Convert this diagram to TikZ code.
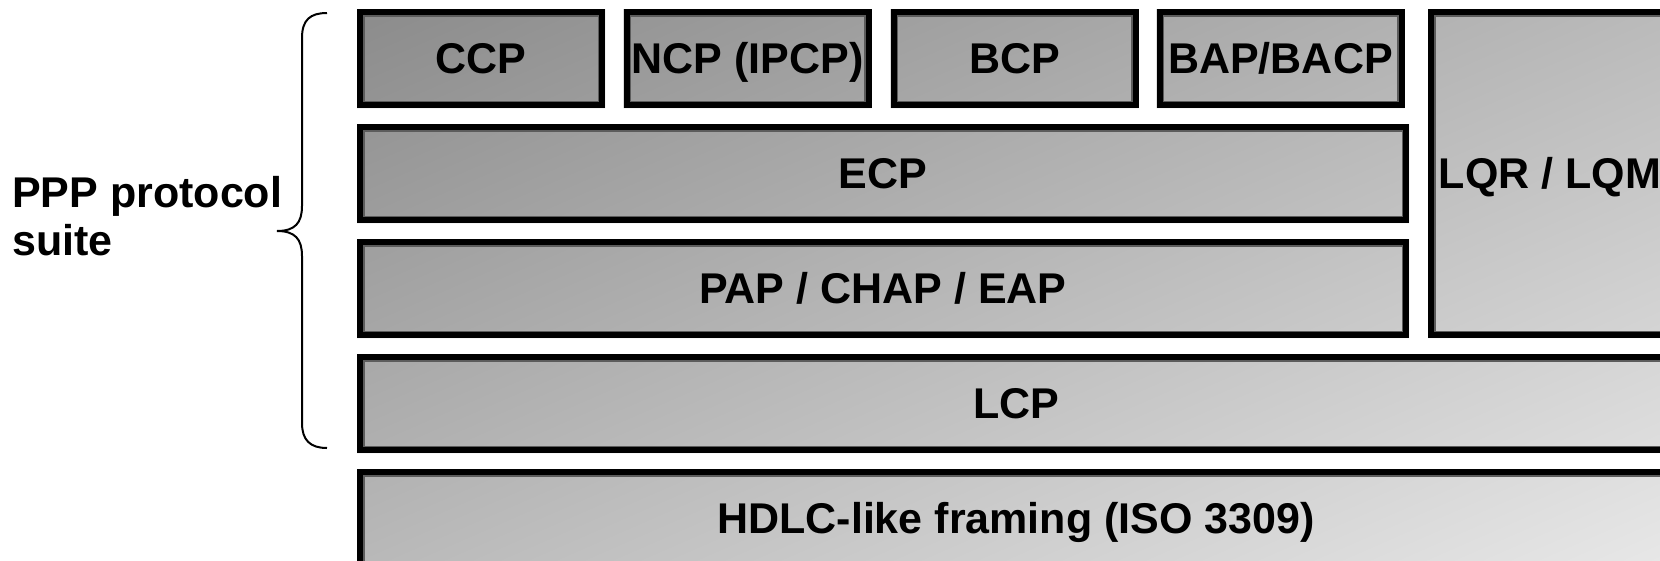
\documentclass[tikz,border=0pt]{standalone}
\usepackage{fontspec}
\setmainfont{Liberation Sans}
\usetikzlibrary{backgrounds}
\definecolor{shdark}{gray}{0.48}
\definecolor{shlight}{gray}{0.94}
\definecolor{innerline}{gray}{0.36}
\tikzset{
  layer/.style={draw=black, line width=6pt, inner sep=0pt, minimum height=93pt,
    text height=30.8pt, text depth=0pt, text=black,
    font=\fontsize{43}{48}\selectfont\bfseries,
    path picture={\draw[innerline, line width=1.5pt]
      ([xshift=3.75pt,yshift=-3.75pt]path picture bounding box.north west) rectangle
      ([xshift=-3.75pt,yshift=3.75pt]path picture bounding box.south east);}},
  smallbox/.style={layer, minimum width=242pt},
  widebox/.style={layer, minimum width=1046pt},
  fullbox/.style={layer, minimum width=1312pt},
  bracestyle/.style={draw=black, line width=2pt},
}
\begin{document}
\begin{tikzpicture}[x=1pt,y=-1pt]
\useasboundingbox (0,0) rectangle (1660,560);
\clip (0,0) rectangle (1660,560);

% protocol layers
\node[smallbox] (ccp) at (481,58.5) {CCP};
\node[smallbox] (ncp) at (747.5,58.5) {NCP (IPCP)};
\node[smallbox] (bcp) at (1014.5,58.5) {BCP};
\node[smallbox] (bap) at (1280.5,58.5) {BAP/BACP};
\node[widebox] (ecp) at (883,173.5) {ECP};
\node[widebox] (auth) at (883,288.5) {PAP / CHAP / EAP};
\node[layer, minimum width=238pt, minimum height=323pt] (lqr) at (1550,173.5) {LQR / LQM};
\node[fullbox] (lcp) at (1016,403.5) {LCP};
\node[fullbox] (hdlc) at (1016,518.5) {HDLC-like framing (ISO 3309)};

% one diagonal grey gradient shared by all boxes
\begin{pgfonlayer}{background}
  \begin{scope}
    \clip (ccp.north west) rectangle (ccp.south east)
          (ncp.north west) rectangle (ncp.south east)
          (bcp.north west) rectangle (bcp.south east)
          (bap.north west) rectangle (bap.south east)
          (ecp.north west) rectangle (ecp.south east)
          (auth.north west) rectangle (auth.south east)
          (lqr.north west) rectangle (lqr.south east)
          (lcp.north west) rectangle (lcp.south east)
          (hdlc.north west) rectangle (hdlc.south east);
    \shade[bottom color=shdark, top color=shlight, shading angle=-156.4]
      (350,-426) rectangle (1670,894);
  \end{scope}
\end{pgfonlayer}

% brace and its label
\coordinate (btop) at (327,13);
\coordinate (bbot) at (327,448);
\coordinate (btip) at (277,231);
\draw[bracestyle] (btop) .. controls (310,13) and (302,20) .. (302,38)
  -- (302,206) .. controls (302,223) and (295,231) .. (btip)
  .. controls (295,231) and (302,239) .. (302,256)
  -- (302,423) .. controls (302,440) and (310,448) .. (bbot);
\node[anchor=north west, inner sep=0pt, align=left,
      font=\fontsize{43}{48}\selectfont\bfseries] (suite) at (12,176.5)
  {PPP protocol\\suite};
\end{tikzpicture}
\end{document}
